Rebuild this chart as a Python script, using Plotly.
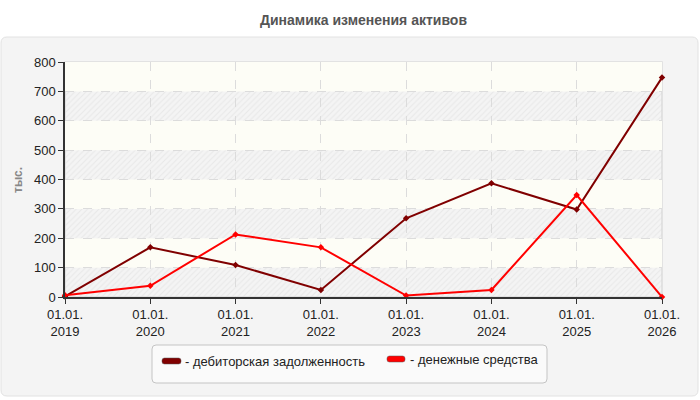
import plotly.graph_objects as go

years = ["2019", "2020", "2021", "2022", "2023", "2024", "2025", "2026"]
tick_labels = ["01.01.<br>" + y for y in years]
receivables = [2, 169, 109, 24, 268, 387, 298, 747]
cash = [6, 38, 213, 169, 5, 24, 347, 0]
series_names = ["дебиторская задолженность", "денежные средства"]
series_colors = ["#800000", "#ff0000"]

W, H = 700, 400
L, R, T, B = 65, 38, 62, 103
PW, PH = W - L - R, H - T - B


def px(x):
    return (x - L) / PW


def py(y):
    return (H - B - y) / PH


def rounded(x0, y0, x1, y1, r):
    pts = []
    pts.append(f"M {px(x0 + r)} {py(y0)}")
    pts.append(f"L {px(x1 - r)} {py(y0)}")
    pts.append(f"Q {px(x1)} {py(y0)} {px(x1)} {py(y0 + r)}")
    pts.append(f"L {px(x1)} {py(y1 - r)}")
    pts.append(f"Q {px(x1)} {py(y1)} {px(x1 - r)} {py(y1)}")
    pts.append(f"L {px(x0 + r)} {py(y1)}")
    pts.append(f"Q {px(x0)} {py(y1)} {px(x0)} {py(y1 - r)}")
    pts.append(f"L {px(x0)} {py(y0 + r)}")
    pts.append(f"Q {px(x0)} {py(y0)} {px(x0 + r)} {py(y0)}")
    return " ".join(pts) + " Z"


xs = list(range(len(years)))
ymax, ystep = 800, 100
xmax = len(years) - 1

fig = go.Figure()

# hatched background bands (0-100, 200-300, ...)
bx, by = [], []
for lo in range(0, ymax, 2 * ystep):
    bx += [0, xmax, xmax, 0, 0, None]
    by += [lo, lo, lo + ystep, lo + ystep, lo, None]
fig.add_trace(go.Scatter(
    x=bx, y=by, mode="none", fill="toself", fillcolor="rgba(0,0,0,0)",
    fillpattern=dict(shape="/", fgcolor="#d8d8d8", fgopacity=0.45,
                     bgcolor="rgba(0,0,0,0)", size=4, solidity=0.25),
    hoverinfo="skip", showlegend=False))

for vals, name, col in zip([receivables, cash], series_names, series_colors):
    fig.add_trace(go.Scatter(
        x=xs, y=vals, mode="lines+markers", name=name,
        line=dict(color=col, width=2),
        marker=dict(symbol="diamond", size=5, color=col),
        cliponaxis=False, showlegend=False))

shapes = []
shapes.append(dict(type="path", xref="paper", yref="paper", layer="below",
                   path=rounded(1, 37, 698, 396, 6),
                   fillcolor="#f4f4f4", line=dict(color="#e2e2e2", width=1)))
for lo in range(ystep, ymax, 2 * ystep):
    shapes.append(dict(type="rect", xref="x", yref="y", layer="below",
                       x0=0, x1=xmax, y0=lo, y1=lo + ystep,
                       fillcolor="#fdfdf6", line=dict(width=0)))
shapes.append(dict(type="rect", xref="paper", yref="paper", layer="below",
                   x0=0, x1=1, y0=0, y1=1,
                   line=dict(color="#dcdcdc", width=1.5)))
shapes.append(dict(type="path", xref="paper", yref="paper",
                   path=rounded(152, 345, 547, 383, 4),
                   fillcolor="#fafafa", line=dict(color="#c4c4c4", width=1)))
sw = [(162, 358, 181, 364), (387, 356, 405, 362)]
tx = [(183, 361), (408, 359)]
annotations = []
for (x0, y0, x1, y1), (tx0, ty0), name, col in zip(sw, tx, series_names, series_colors):
    shapes.append(dict(type="path", xref="paper", yref="paper",
                       path=rounded(x0, y0, x1, y1, 2.5),
                       fillcolor=col, line=dict(color="#555555", width=0.5)))
    annotations.append(dict(xref="paper", yref="paper", x=px(tx0), y=py(ty0),
                            xanchor="left", yanchor="middle", showarrow=False,
                            text="- " + name,
                            font=dict(family="Liberation Sans, Arial", size=13, color="#222")))

annotations.append(dict(xref="paper", yref="paper", x=px(18), y=py(180),
                        xanchor="center", yanchor="middle", showarrow=False,
                        text="<b>тыс.</b>", textangle=-90,
                        font=dict(family="Liberation Sans, Arial", size=12, color="#888")))

fig.update_layout(
    width=W, height=H,
    margin=dict(l=L, r=R, t=T, b=B),
    paper_bgcolor="white", plot_bgcolor="white",
    title=dict(text="<b>Динамика изменения активов</b>", x=0.5, xanchor="center",
               xref="paper", yref="container", y=1 - 20 / H, yanchor="middle",
               font=dict(family="Liberation Sans, Arial", size=14, color="#555")),
    shapes=shapes, annotations=annotations,
    showlegend=False,
    font=dict(family="Liberation Sans, Arial", size=13, color="#222"),
)
fig.update_xaxes(
    range=[0, xmax], tickvals=xs, ticktext=tick_labels,
    showline=True, linecolor="#333", linewidth=1.5,
    ticks="outside", ticklen=5, tickcolor="#333",
    showgrid=True, gridcolor="#dcdcdc", griddash="dash", gridwidth=1,
    zeroline=False, tickfont=dict(size=13, color="#222"),
)
fig.update_yaxes(
    range=[0, ymax], dtick=ystep,
    showline=True, linecolor="#333", linewidth=1.5,
    ticks="outside", ticklen=5, tickcolor="#333",
    showgrid=True, gridcolor="#dcdcdc", griddash="dash", gridwidth=1,
    zeroline=False, tickfont=dict(size=13, color="#222"),
)

fig.write_html("out.html")
